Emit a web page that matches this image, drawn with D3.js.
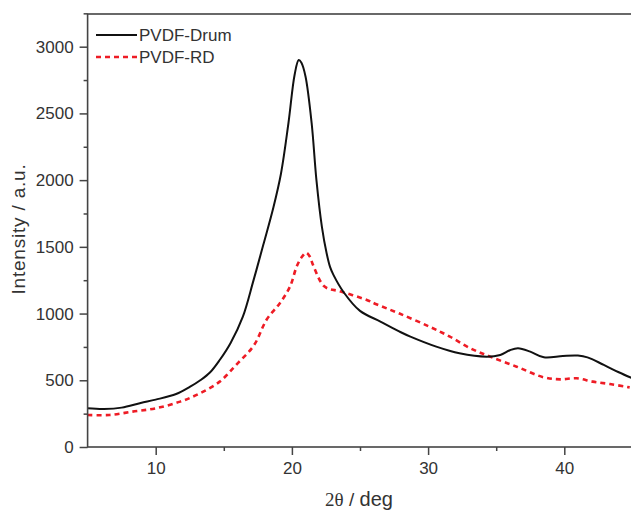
<!DOCTYPE html>
<html>
<head>
<meta charset="utf-8">
<script src="https://cdn.jsdelivr.net/npm/d3@7"></script>
<style>
  html, body { margin: 0; padding: 0; background: #fff; }
  text { font-family: "Liberation Sans", Arial, sans-serif; fill: #333; }
</style>
</head>
<body>
<div id="chart"></div>
<script>
// PVDF-Drum (black, solid)
const drumTheta = [5.0, 6.2, 7.5, 8.9, 10.0, 11.5, 12.5, 13.3, 14.0, 14.7, 15.5, 16.4, 17.17, 17.9, 18.64, 19.2, 19.75, 20.2, 20.5, 20.7, 21.0, 21.45, 21.8, 22.2, 22.55, 22.8, 23.05, 23.8, 25.0, 26.5, 28.0, 28.7, 30.6, 32.3, 34.3, 35.3, 36.0, 36.6, 37.5, 38.5, 39.9, 41.0, 41.7, 42.9, 44.0, 45.0];
const drumIntensity = [290, 285, 295, 330, 355, 397, 450, 502, 560, 652, 780, 977, 1245, 1515, 1795, 2050, 2430, 2790, 2900, 2880, 2777, 2427, 2002, 1652, 1452, 1350, 1290, 1160, 1020, 940, 860, 827, 752, 702, 677, 690, 725, 740, 715, 672, 682, 685, 672, 615, 560, 515];

// PVDF-RD (red, dashed)
const rdTheta = [5.0, 6.6, 8.3, 10.0, 11.8, 13.25, 14.7, 15.95, 17.2, 18.15, 19.13, 19.86, 20.35, 20.7, 21.05, 21.3, 21.6, 22.4, 23.6, 25.5, 26.2, 27.9, 30.1, 31.6, 33.1, 34.55, 36.5, 38.5, 39.7, 40.9, 42.1, 43.35, 44.8];
const rdIntensity = [240, 240, 265, 290, 340, 402, 490, 620, 760, 955, 1080, 1202, 1352, 1420, 1456, 1430, 1352, 1202, 1165, 1102, 1070, 1000, 902, 827, 740, 677, 602, 522, 507, 515, 490, 472, 447];

const seriesNames = ["PVDF-Drum", "PVDF-RD"];
const xTicks = [10, 20, 30, 40];
const xMinor = [15, 25, 35];
const yTicks = [0, 500, 1000, 1500, 2000, 2500, 3000];
const yMinor = [250, 750, 1250, 1750, 2250, 2750, 3250];

const width = 631, height = 511;
const plotLeft = 87.6, plotRight = 632.4, plotTop = 14, plotBottom = 447;

const svg = d3.select("#chart").append("svg")
    .attr("width", width)
    .attr("height", height);

const x = d3.scaleLinear().domain([5, 45]).range([plotLeft, plotRight]);
const y = d3.scaleLinear().domain([0, 3245]).range([plotBottom, plotTop]);

const series = [
    { name: seriesNames[0], pts: d3.zip(drumTheta, drumIntensity), color: "#111", width: 2, dash: null },
    { name: seriesNames[1], pts: d3.zip(rdTheta, rdIntensity), color: "#ee1c25", width: 2.6, dash: "5,4" }
];

const line = d3.line()
    .x(d => x(d[0]))
    .y(d => y(d[1]))
    .curve(d3.curveCatmullRom.alpha(0.5));

svg.append("defs").append("clipPath").attr("id", "plot")
    .append("rect").attr("x", plotLeft).attr("y", plotTop)
    .attr("width", plotRight - plotLeft).attr("height", plotBottom - plotTop);

// curves (red under black)
svg.selectAll("path.series")
    .data(series.slice().reverse())
    .enter()
    .append("path")
    .attr("class", "series")
    .attr("clip-path", "url(#plot)")
    .attr("d", d => line(d.pts))
    .attr("fill", "none")
    .attr("stroke", d => d.color)
    .attr("stroke-width", d => d.width)
    .attr("stroke-dasharray", d => d.dash)
    .attr("stroke-linejoin", "round");

// frame
svg.append("rect")
    .attr("x", plotLeft).attr("y", plotTop)
    .attr("width", plotRight - plotLeft + 5).attr("height", plotBottom - plotTop)
    .attr("fill", "none")
    .attr("stroke", "#444")
    .attr("stroke-width", 1.6);

// axes
svg.append("g")
    .attr("transform", `translate(0,${plotBottom})`)
    .call(d3.axisBottom(x).tickValues(xTicks).tickSize(8).tickPadding(7).tickFormat(d3.format("d")));
svg.append("g")
    .attr("transform", `translate(0,${plotBottom})`)
    .call(d3.axisBottom(x).tickValues(xMinor).tickSize(4).tickFormat(""));

svg.append("g")
    .attr("transform", `translate(${plotLeft},0)`)
    .call(d3.axisLeft(y).tickValues(yTicks).tickSize(8).tickPadding(6).tickFormat(d3.format("d")));
svg.append("g")
    .attr("transform", `translate(${plotLeft},0)`)
    .call(d3.axisLeft(y).tickValues(yMinor).tickSize(4).tickFormat(""));

svg.selectAll(".domain").remove();
svg.selectAll(".tick line").attr("stroke", "#444").attr("stroke-width", 1.5);
svg.selectAll(".tick text")
    .style("font-family", "'Liberation Sans', Arial, sans-serif")
    .style("font-size", "17px")
    .attr("fill", "#333");

// axis titles
svg.append("text")
    .attr("transform", "translate(25,229) rotate(-90)")
    .attr("text-anchor", "middle")
    .style("font-size", "19px")
    .style("letter-spacing", "0.8px")
    .text("Intensity / a.u.");

const xt = svg.append("text")
    .attr("x", 359)
    .attr("y", 506)
    .attr("text-anchor", "middle");
xt.append("tspan")
    .style("font-family", "'Liberation Serif', 'Times New Roman', serif")
    .style("font-size", "19px")
    .text("2θ");
xt.append("tspan")
    .style("font-size", "19px")
    .style("font-weight", "300")
    .text(" / ");
xt.append("tspan")
    .style("font-size", "20px")
    .text("deg");

// legend
const legend = svg.append("g").attr("transform", "translate(96,35)");
const items = legend.selectAll("g")
    .data(series)
    .enter()
    .append("g")
    .attr("transform", (d, i) => `translate(0,${i * 22})`);
items.append("line")
    .attr("x1", 0).attr("x2", 41)
    .attr("stroke", d => d.color)
    .attr("stroke-width", d => d.width)
    .attr("stroke-dasharray", d => d.dash);
items.append("text")
    .attr("x", 43)
    .attr("dy", "0.36em")
    .style("font-size", "17px")
    .text(d => d.name);
</script>
</body>
</html>
